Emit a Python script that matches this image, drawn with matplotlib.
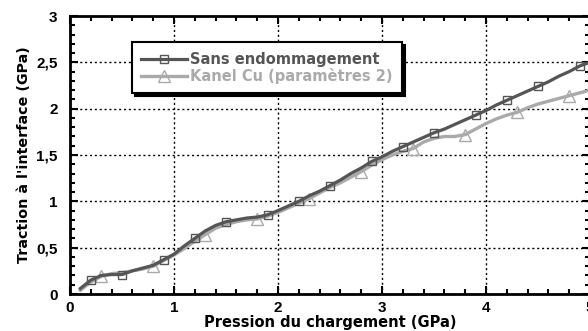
import matplotlib.pyplot as plt
import matplotlib.ticker as mtick

plt.rcParams['font.family'] = ['DejaVu Sans']
plt.rcParams['font.weight'] = 'bold'

# Pression du chargement (GPa), pas de 0,1
pression = [0.1, 0.2, 0.3, 0.4, 0.5, 0.6, 0.7, 0.8, 0.9, 1.0,
            1.1, 1.2, 1.3, 1.4, 1.5, 1.6, 1.7, 1.8, 1.9, 2.0,
            2.1, 2.2, 2.3, 2.4, 2.5, 2.6, 2.7, 2.8, 2.9, 3.0,
            3.1, 3.2, 3.3, 3.4, 3.5, 3.6, 3.7, 3.8, 3.9, 4.0,
            4.1, 4.2, 4.3, 4.4, 4.5, 4.6, 4.7, 4.8, 4.9, 5.0]

sans_endo = [0.06, 0.15, 0.20, 0.21, 0.21, 0.25, 0.28, 0.31, 0.37, 0.43,
             0.52, 0.60, 0.68, 0.74, 0.78, 0.80, 0.82, 0.83, 0.855, 0.90,
             0.95, 1.00, 1.06, 1.11, 1.17, 1.23, 1.30, 1.36, 1.43, 1.48,
             1.54, 1.59, 1.64, 1.69, 1.74, 1.78, 1.83, 1.88, 1.93, 1.98,
             2.04, 2.09, 2.14, 2.19, 2.24, 2.29, 2.35, 2.40, 2.46, 2.50]

kanel_cu = [0.04, 0.13, 0.19, 0.22, 0.23, 0.25, 0.27, 0.30, 0.36, 0.42,
            0.49, 0.57, 0.64, 0.71, 0.75, 0.78, 0.80, 0.81, 0.84, 0.88,
            0.93, 0.98, 1.03, 1.09, 1.15, 1.20, 1.26, 1.32, 1.39, 1.45,
            1.50, 1.54, 1.57, 1.64, 1.68, 1.70, 1.70, 1.72, 1.78, 1.84,
            1.89, 1.93, 1.96, 2.01, 2.05, 2.08, 2.11, 2.14, 2.17, 2.20]

# indices des points marqués
marques_sans = [1, 4, 8, 11, 14, 18, 21, 24, 28, 31, 34, 38, 41, 44, 48]
marques_kanel = [2, 7, 12, 17, 22, 27, 32, 37, 42, 47]

y_ticks = [0, 0.5, 1, 1.5, 2, 2.5, 3]
y_labels = ['0', '0,5', '1', '1,5', '2', '2,5', '3']
x_ticks = [0, 1, 2, 3, 4, 5]

fonce = '#555555'
clair = '#aaaaaa'

fig = plt.figure(figsize=(5.88, 3.31), dpi=100)
ax = fig.add_axes([70 / 588, 37 / 331, 520 / 588, 278 / 331])

ax.plot(pression, sans_endo, color=fonce, lw=2.3, marker='s', ms=6,
        mfc='none', mec=fonce, mew=1.0, markevery=marques_sans,
        label='Sans endommagement', zorder=3)
ax.plot(pression, kanel_cu, color=clair, lw=2.4, marker='^', ms=8.5,
        mfc='none', mec=clair, mew=1.0, markevery=marques_kanel,
        label='Kanel Cu (paramètres 2)', zorder=2)

ax.set_xlim(0, 5)
ax.set_ylim(0, 3)
ax.set_xticks(x_ticks)
ax.set_yticks(y_ticks)
ax.set_yticklabels(y_labels)
ax.xaxis.set_minor_locator(mtick.MultipleLocator(0.2))
ax.yaxis.set_minor_locator(mtick.MultipleLocator(0.1))
ax.tick_params(which='both', direction='in', top=True, right=True,
               width=1.5)
ax.tick_params(which='major', length=6)
ax.tick_params(which='minor', length=3.5)
ax.tick_params(axis='y', pad=9)
ax.tick_params(axis='x', pad=5)
for lab in ax.get_xticklabels() + ax.get_yticklabels():
    lab.set_fontfamily('Liberation Sans')
    lab.set_fontsize(11)
    lab.set_fontweight('bold')

for s in ax.spines.values():
    s.set_linewidth(2)

ax.grid(True, which='major', color='black', ls=(0, (1.5, 2)), lw=1)

ax.set_xlabel('Pression du chargement (GPa)', fontsize=10.5,
              fontweight='bold', labelpad=0)
ax.set_ylabel("Traction à l'interface (GPa)", fontsize=10.3,
              fontweight='bold', labelpad=4)

leg = ax.legend(loc='upper left', bbox_to_anchor=(0.119, 0.906),
                fontsize=10.5, handlelength=3.1, fancybox=False,
                shadow={'color': 'black', 'alpha': 1, 'ox': 2, 'oy': -2},
                framealpha=1, borderpad=0.65, labelspacing=0.08,
                handletextpad=0.25, borderaxespad=0)
leg.get_frame().set_edgecolor('black')
leg.get_frame().set_linewidth(1.5)
for txt, col in zip(leg.get_texts(), [fonce, clair]):
    txt.set_color(col)

plt.savefig('out.png', dpi=100)
